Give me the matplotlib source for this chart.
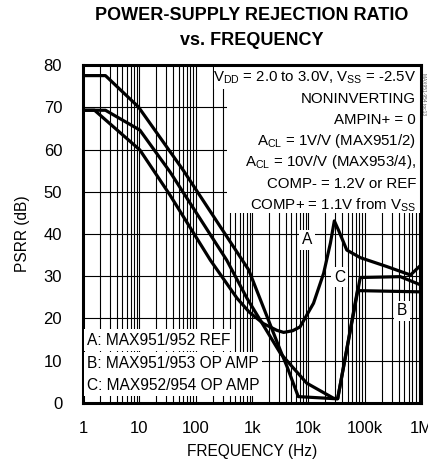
import matplotlib
matplotlib.use('Agg')
import matplotlib.pyplot as plt
from matplotlib.patches import Rectangle
from matplotlib.ticker import FixedLocator, FixedFormatter, NullFormatter

FONTS = ['Liberation Sans', 'DejaVu Sans']
plt.rcParams['font.family'] = FONTS
plt.rcParams['mathtext.fontset'] = 'custom'
plt.rcParams['mathtext.rm'] = 'Liberation Sans'
plt.rcParams['mathtext.it'] = 'Liberation Sans'

# curve A: MAX951/952 REF
freq_a = [1, 1.6, 10.2, 35, 182, 540, 891, 1585, 2750, 3630, 5250, 7080,
          12300, 18600, 24500, 28800, 33900, 47900, 83200, 245000, 646000, 1e6]
psrr_a = [69.3, 69.3, 59.9, 49.2, 33.8, 24.8, 21.5, 18.8, 17.2, 16.7, 17.1, 18.0,
          23.6, 30.7, 37.8, 43.1, 41.0, 36.2, 34.4, 32.3, 30.3, 32.7]
# curve B: MAX951/953 OP AMP
freq_b = [1, 2.5, 10.2, 35, 355, 810, 3160, 9300, 28000, 33000, 74000, 1e6]
psrr_b = [69.3, 69.3, 64.6, 54.7, 33.8, 24.8, 11.8, 4.7, 1.1, 1.0, 26.6, 26.3]
# curve C: MAX952/954 OP AMP
freq_c = [1, 2.5, 9.6, 60, 870, 3160, 4170, 6600, 30000, 33000, 83000, 427000, 1e6]
psrr_c = [77.5, 77.5, 70.1, 55.1, 31.5, 12.5, 8.6, 1.5, 1.0, 1.0, 29.7, 29.9, 27.9]

x_ticks = [1, 10, 100, 1e3, 1e4, 1e5, 1e6]
x_labels = ['1', '10', '100', '1k', '10k', '100k', '1M']
y_ticks = [0, 10, 20, 30, 40, 50, 60, 70, 80]

cond_lines = [
    r'V$_{\rm DD}$ = 2.0 to 3.0V, V$_{\rm SS}$ = -2.5V',
    'NONINVERTING',
    'AMPIN+ = 0',
    r'A$_{\rm CL}$ = 1V/V (MAX951/2)',
    r'A$_{\rm CL}$ = 10V/V (MAX953/4),',
    'COMP- = 1.2V or REF',
    r'COMP+ = 1.1V from V$_{\rm SS}$',
]
key_lines = ['A: MAX951/952 REF', 'B: MAX951/953 OP AMP', 'C: MAX952/954 OP AMP']

FS = 11.2

fig = plt.figure(figsize=(4.28, 4.68), dpi=100)
ax = fig.add_axes([0.194, 0.139, 0.790, 0.722])
ax.set_xscale('log')
ax.set_xlim(1, 1e6)
ax.set_ylim(0, 80)
ax.set_axisbelow(True)

ax.xaxis.set_major_locator(FixedLocator(x_ticks))
ax.xaxis.set_major_formatter(FixedFormatter(x_labels))
minors = [m * 10 ** d for d in range(6) for m in range(2, 10)]
ax.xaxis.set_minor_locator(FixedLocator(minors))
ax.xaxis.set_minor_formatter(NullFormatter())
ax.set_yticks(y_ticks)
ax.grid(True, which='both', axis='x', color='black', lw=0.8)
ax.grid(True, which='major', axis='y', color='black', lw=0.8)
ax.tick_params(which='both', length=0, labelsize=FS + 0.8, colors='black')
ax.tick_params(axis='x', pad=13)
ax.tick_params(axis='y', pad=15)
for s in ax.spines.values():
    s.set_linewidth(2.2)

# white panel behind the condition text
ax.add_patch(Rectangle((0.426, 0.562), 0.574, 0.438, transform=ax.transAxes,
                       fc='white', ec='none', zorder=1))
ax.add_patch(Rectangle((0.388, 0.93), 0.1, 0.07, transform=ax.transAxes,
                       fc='white', ec='none', zorder=1))

for f, p in [(freq_a, psrr_a), (freq_b, psrr_b), (freq_c, psrr_c)]:
    ax.plot(f, p, color='black', lw=2.3, zorder=3, solid_joinstyle='round')

row_y = [0.963, 0.899, 0.837, 0.775, 0.713, 0.648, 0.586]
for t, yy in zip(cond_lines, row_y):
    ax.text(0.985, yy, t, transform=ax.transAxes, ha='right', va='center',
            fontsize=FS - 0.4, zorder=4)

key_y = [0.186, 0.118, 0.053]
for t, yy in zip(key_lines, key_y):
    ax.text(0.012, yy, t, transform=ax.transAxes, ha='left', va='center',
            fontsize=FS, zorder=4,
            bbox=dict(fc='white', ec='none', pad=2.5))

box = dict(fc='white', ec='none', pad=2)
ax.text(9500, 38.6, 'A', ha='center', va='center', fontsize=FS, zorder=4, bbox=box)
ax.text(36000, 29.8, 'C', ha='center', va='center', fontsize=FS, zorder=4, bbox=box)
ax.text(450000, 21.8, 'B', ha='center', va='center', fontsize=FS, zorder=4, bbox=box)

ax.set_xlabel('FREQUENCY (Hz)', fontsize=FS, labelpad=6)
ax.set_ylabel('PSRR (dB)', fontsize=FS, labelpad=10)

fig.text(0.589, 0.966, 'POWER-SUPPLY REJECTION RATIO', ha='center', va='center',
         fontsize=13.0, fontweight='bold')
fig.text(0.589, 0.914, 'vs. FREQUENCY', ha='center', va='center',
         fontsize=13.0, fontweight='bold')
fig.text(0.995, 0.80, 'MAX951-954 toc13', rotation=270, ha='right', va='center',
         fontsize=3.5, color='#555555')

fig.savefig('out.png', dpi=100)
